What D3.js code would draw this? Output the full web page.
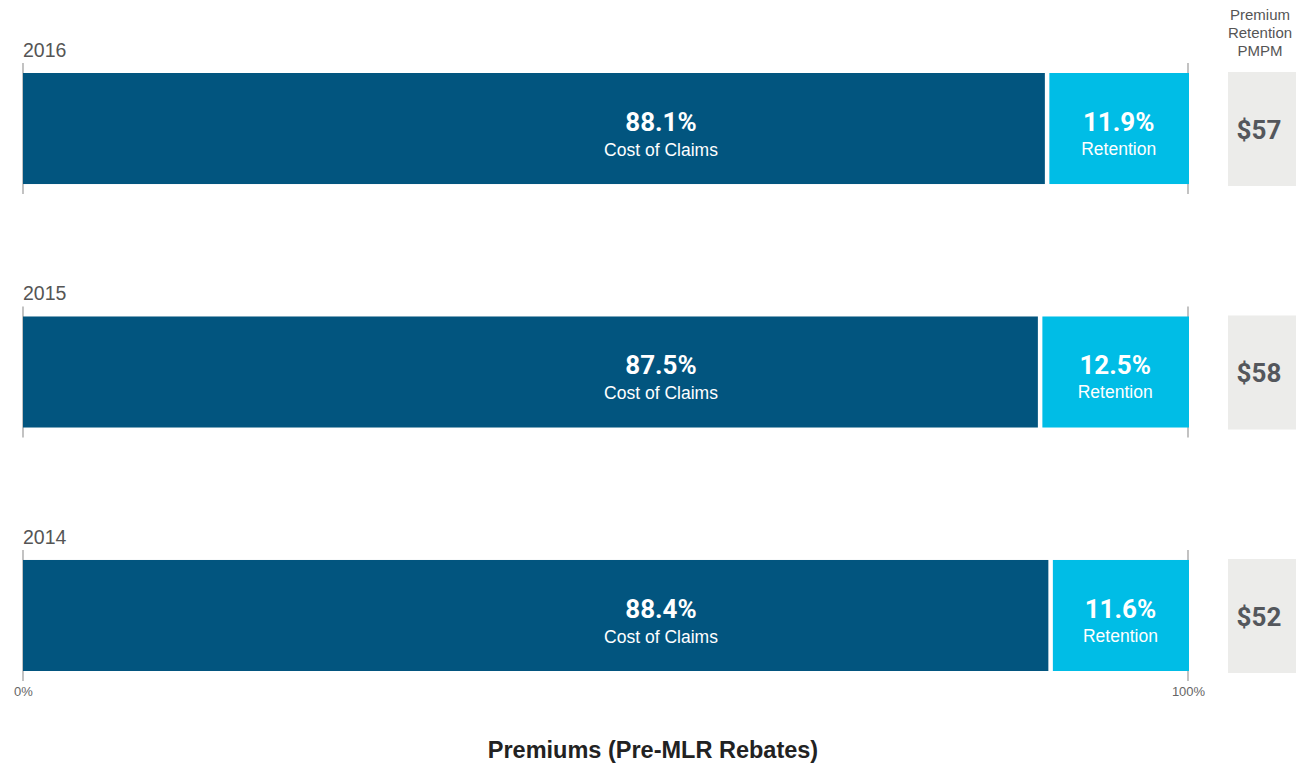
<!DOCTYPE html>
<html>
<head>
<meta charset="utf-8">
<script src="https://cdn.jsdelivr.net/npm/d3@7"></script>
<style>
  html, body { margin: 0; padding: 0; background: #fff; }
  svg { display: block; }
</style>
</head>
<body>
<svg id="chart" width="1313" height="763"></svg>
<script>
// Years shown, top to bottom
const years = ["2016", "2015", "2014"];
// Share of premiums spent on claims (%)
const claimsPct = [88.1, 87.5, 88.4];
// Share of premiums retained (%)
const retentionPct = [11.9, 12.5, 11.6];
// Premium retention per member per month ($)
const pmpm = [57, 58, 52];
// Axis tick labels
const tickValues = [0, 100];
const tickLabels = ["0%", "100%"];

const rows = years.map((y, i) => ({
  year: y, claims: claimsPct[i], retention: retentionPct[i], pmpm: pmpm[i]
}));

const svg = d3.select("#chart");

const DARK = "#02557f", LIGHT = "#00bde6", BOX = "#ececea";
const SANS = "'Liberation Sans', Arial, Helvetica, sans-serif";
const NUM = "Roboto, 'Liberation Sans', sans-serif";

const x = d3.scaleLinear().domain([0, 100]).range([23, 1188]);
const y = d3.scaleBand().domain(years).range([73, 671]).paddingInner(0.544).paddingOuter(0);
const bh = y.bandwidth();
const gap = 4.5;            // white gap between the two segments
const claimsLabelX = 661;   // label column for the claims segment

// Faint guide lines at 0% and 100% around each bar
const guides = svg.append("g").attr("class", "guides");
rows.forEach(d => {
  tickValues.forEach(v => {
    guides.append("line")
      .attr("x1", x(v)).attr("x2", x(v))
      .attr("y1", y(d.year) - 10).attr("y2", y(d.year) + bh + 10)
      .attr("stroke", "#9a9a9a").attr("stroke-width", 1.2);
  });
});

const row = svg.selectAll("g.row").data(rows).join("g").attr("class", "row")
  .attr("transform", d => `translate(0,${y(d.year)})`);

// Claims segment
row.append("rect")
  .attr("x", x(0))
  .attr("y", 0)
  .attr("width", d => x(d.claims) - x(0) - gap)
  .attr("height", bh)
  .attr("fill", DARK);

// Retention segment
row.append("rect")
  .attr("x", d => x(d.claims))
  .attr("y", 0)
  .attr("width", d => x(100) + 1 - x(d.claims))
  .attr("height", bh)
  .attr("fill", LIGHT);

// Year labels
row.append("text")
  .attr("x", x(0)).attr("y", -16)
  .attr("font-family", SANS).attr("font-size", 19.5)
  .attr("fill", "#555").text(d => d.year);

// Claims labels
row.append("text")
  .attr("x", claimsLabelX).attr("y", 58)
  .attr("text-anchor", "middle")
  .attr("font-family", NUM).attr("font-weight", 700).attr("font-size", 26)
  .attr("fill", "#fff").text(d => d.claims.toFixed(1) + "%");
row.append("text")
  .attr("x", claimsLabelX).attr("y", 83)
  .attr("text-anchor", "middle")
  .attr("font-family", SANS).attr("font-size", 17.5)
  .attr("fill", "#fff").text("Cost of Claims");

// Retention labels
const retCx = d => (x(d.claims) + x(100)) / 2;
row.append("text")
  .attr("x", retCx).attr("y", 58)
  .attr("text-anchor", "middle")
  .attr("font-family", NUM).attr("font-weight", 700).attr("font-size", 26)
  .attr("fill", "#fff").text(d => d.retention.toFixed(1) + "%");
row.append("text")
  .attr("x", retCx).attr("y", 82)
  .attr("text-anchor", "middle")
  .attr("font-family", SANS).attr("font-size", 17.5)
  .attr("fill", "#fff").text("Retention");

// PMPM boxes
const boxX = 1228, boxW = 68;
row.append("rect")
  .attr("x", boxX).attr("y", -1)
  .attr("width", boxW).attr("height", bh + 3)
  .attr("fill", BOX);
row.append("text")
  .attr("x", boxX + boxW / 2 - 3).attr("y", 66)
  .attr("text-anchor", "middle")
  .attr("font-family", NUM).attr("font-weight", 700).attr("font-size", 26)
  .attr("fill", "#54575c").text(d => "$" + d.pmpm);

// PMPM column header
const hx = boxX + boxW / 2 - 2;
const header = svg.append("text")
  .attr("x", hx).attr("y", 20)
  .attr("text-anchor", "middle")
  .attr("font-family", SANS).attr("font-size", 15)
  .attr("fill", "#555");
["Premium", "Retention", "PMPM"].forEach((t, i) => {
  header.append("tspan").attr("x", hx).attr("dy", i === 0 ? 0 : 18).text(t);
});

// Bottom axis
const axis = d3.axisBottom(x).tickValues(tickValues)
  .tickFormat((d, i) => tickLabels[i]).tickSize(0).tickPadding(0);
const ax = svg.append("g").attr("transform", `translate(0,${y("2014") + bh})`).call(axis);
ax.select(".domain").remove();
ax.selectAll("text")
  .attr("y", 25).attr("dy", 0)
  .attr("font-family", SANS).attr("font-size", 13).attr("fill", "#666");

// Axis title
svg.append("text")
  .attr("x", 653).attr("y", 758)
  .attr("text-anchor", "middle")
  .attr("font-family", SANS).attr("font-weight", 700).attr("font-size", 23.5)
  .attr("fill", "#222").text("Premiums (Pre-MLR Rebates)");
</script>
</body>
</html>
